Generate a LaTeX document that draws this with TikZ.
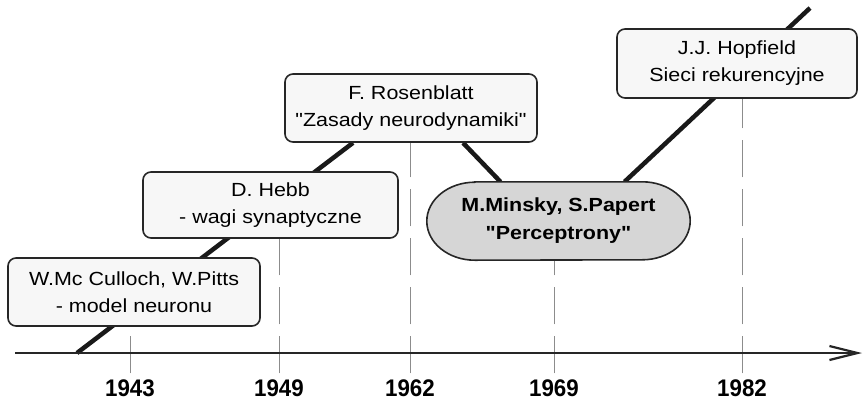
\documentclass[tikz,border=0pt]{standalone}
\usepackage{fontspec}
\setmainfont{Liberation Sans}
\newfontfamily\widefont[FakeStretch=1.13]{Liberation Sans}
\newfontfamily\yearfont[FakeStretch=0.93]{Liberation Sans}
\usetikzlibrary{arrows.meta,calc,backgrounds}

\begin{document}
\begin{tikzpicture}[x=1pt,y=-1pt,
  event/.style={draw=black!85, line width=1.6pt, rounded corners=8pt,
    fill=black!3, align=center, inner sep=0pt, text=black,
    font=\widefont\fontsize{19}{27}\selectfont},
  boldevent/.style={align=center, inner sep=0pt, text=black,
    font=\widefont\bfseries\fontsize{19}{28}\selectfont},
  year/.style={inner sep=0pt, text=black,
    font=\yearfont\bfseries\fontsize{24}{24}\selectfont},
  tick/.style={draw=black!45, line width=0.9pt, dash pattern=on 37pt off 12pt},
  trend/.style={draw=black!90, line width=4.5pt},
  axis/.style={draw=black!85, line width=1.8pt,
    -{Straight Barb[length=28pt,width=14pt,line width=2.2pt]}}]
\useasboundingbox (0,0) rectangle (865,400);

% events along the timeline
\node[event, minimum width=252pt, minimum height=68pt] (mcc) at (134,292)
  {W.Mc Culloch, W.Pitts\\- model neuronu};
\node[event, minimum width=255pt, minimum height=66pt] (hebb) at (270.5,205)
  {D. Hebb\\- wagi synaptyczne};
\node[event, minimum width=252pt, minimum height=68pt] (ros) at (411,108)
  {F. Rosenblatt\\"Zasady neurodynamiki"};
\node[boldevent, minimum width=263pt, minimum height=78pt] (minsky) at (558.5,221)
  {M.Minsky, S.Papert\\"Perceptrony"};
\node[event, minimum width=240pt, minimum height=69pt] (hop) at (737,63.5)
  {J.J. Hopfield\\Sieci rekurencyjne};

% year labels
\node[year] (y1943) at (130,388) {1943};
\node[year] (y1949) at (279,388) {1949};
\node[year] (y1962) at (410,388) {1962};
\node[year] (y1969) at (554,388) {1969};
\node[year] (y1982) at (742,388) {1982};

% axis ends and free ends of the trend line
\coordinate (axstart) at (15,353);
\coordinate (axend) at (862,353);
\coordinate (trendstart) at (77,353);
\coordinate (trendend) at (810,8);

\begin{scope}[on background layer]
  % dashed year markers
  \draw[tick] ($(y1943.north)+(0,-6)$) -- (y1943.north |- mcc.south);
  \draw[tick] ($(y1949.north)+(0,-6)$) -- (y1949.north |- hebb.south);
  \draw[tick] ($(y1962.north)+(0,-6)$) -- (y1962.north |- ros.south);
  \draw[tick] ($(y1969.north)+(0,-6)$) -- (y1969.north |- minsky.south);
  \draw[tick] ($(y1982.north)+(0,-6)$) -- (y1982.north |- hop.south);
  % trend line
  \draw[trend] (trendstart) -- ($(ros.south)+(-58,0)$);
  \draw[trend] ($(ros.south)+(52,0)$) -- ($(minsky.north)+(-58,0)$);
  \draw[trend] ($(minsky.north)+(66,0)$) -- (trendend);
  % rounded outline of the highlighted event
  \draw[draw=black!85, line width=1.6pt, fill=black!16]
    ($(minsky.north west)+(48,0)$) -- ($(minsky.north east)+(-48,0)$)
    arc[start angle=90, end angle=-90, x radius=48pt, y radius=39pt]
    -- ($(minsky.south west)+(48,0)$)
    arc[start angle=270, end angle=90, x radius=48pt, y radius=39pt]
    -- cycle;
\end{scope}

% time axis
\draw[axis] (axstart) -- (axend);
\end{tikzpicture}
\end{document}
